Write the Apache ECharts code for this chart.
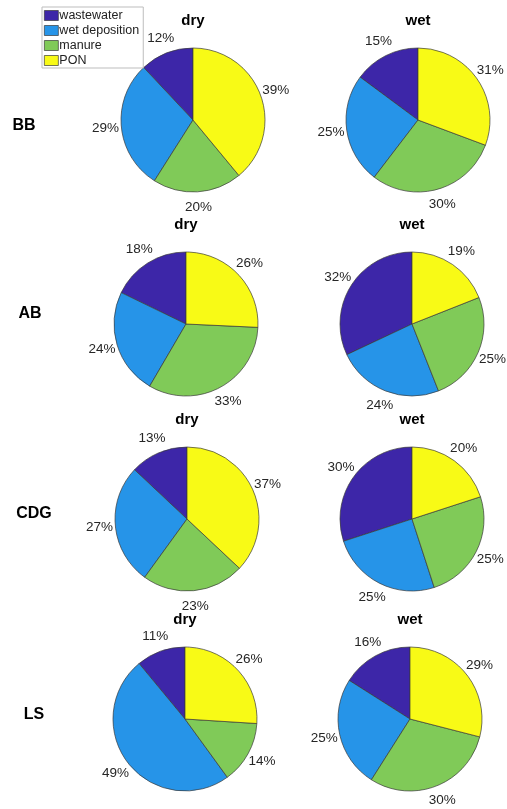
<!DOCTYPE html>
<html>
<head>
<meta charset="utf-8">
<script src="https://cdn.jsdelivr.net/npm/echarts@6/dist/echarts.min.js"></script>
<style>
html,body{margin:0;padding:0;background:#fff;}
#chart{width:507px;height:809px;}
</style>
</head>
<body>
<div id="chart"></div>
<script>
// ---- data ----
const categories = ['wastewater', 'wet deposition', 'manure', 'PON'];
const rowNames = ['BB', 'AB', 'CDG', 'LS'];
const colNames = ['dry', 'wet'];
const bbDry = [12, 29, 20, 39];
const bbWet = [15, 25, 30, 31];
const abDry = [18, 24, 33, 26];
const abWet = [32, 24, 25, 19];
const cdgDry = [13, 27, 23, 37];
const cdgWet = [30, 25, 25, 20];
const lsDry = [11, 49, 14, 26];
const lsWet = [16, 25, 30, 29];

// ---- layout / style ----
const valuesByRow = [[bbDry, bbWet], [abDry, abWet], [cdgDry, cdgWet], [lsDry, lsWet]];
const colors = ['#3D26A8', '#2694E8', '#80CA58', '#F8FA16'];
const rowCY = [120, 324, 519, 719];
const colCX = [[193, 418], [186, 412], [187, 412], [185, 410]];
const rowLabelX = [24, 30, 34, 34];
const rowLabelY = [126, 314, 514, 715];
const R = 72;
const FONT = '"Liberation Sans", Arial, Helvetica, sans-serif';

const series = [];
const graphics = [];
valuesByRow.forEach((pair, r) => {
  pair.forEach((vals, c) => {
    series.push({
      type: 'pie',
      name: rowNames[r] + ' ' + colNames[c],
      center: [colCX[r][c], rowCY[r]],
      radius: R,
      startAngle: 90,
      clockwise: false,
      avoidLabelOverlap: false,
      animation: false,
      silent: true,
      itemStyle: { borderColor: '#3a3a3a', borderWidth: 0.7 },
      emphasis: { disabled: true },
      label: {
        show: true,
        position: 'outside',
        formatter: '{c}%',
        color: '#262626',
        fontSize: 13.5,
        fontFamily: FONT
      },
      labelLine: { show: true, length: R * 0.22, length2: 0, lineStyle: { opacity: 0, width: 0 } },
      labelLayout: function (p) {
        const pts = p.labelLinePoints;
        if (pts && pts[1]) {
          return { x: pts[1][0], y: pts[1][1], align: 'center', verticalAlign: 'middle' };
        }
        return {};
      },
      data: categories.map((name, i) => ({ name: name, value: vals[i], itemStyle: { color: colors[i] } }))
    });
    graphics.push({
      type: 'text',
      x: colCX[r][c],
      y: rowCY[r] - R - 27,
      style: { text: colNames[c], align: 'center', verticalAlign: 'middle', font: 'bold 15px ' + FONT, fill: '#000' }
    });
  });
  graphics.push({
    type: 'text',
    x: rowLabelX[r],
    y: rowLabelY[r],
    style: { text: rowNames[r], align: 'center', verticalAlign: 'middle', font: 'bold 16px ' + FONT, fill: '#000' }
  });
});

const chart = echarts.init(document.getElementById('chart'), null, { renderer: 'canvas' });
chart.setOption({
  backgroundColor: '#fff',
  animation: false,
  color: colors,
  legend: {
    orient: 'vertical',
    left: 42,
    top: 7,
    data: categories,
    icon: 'rect',
    itemWidth: 14,
    itemHeight: 10,
    itemGap: 0,
    padding: [1, 4, 0, 2],
    backgroundColor: '#fff',
    borderColor: '#bdbdbd',
    borderWidth: 1,
    borderRadius: 0,
    selectedMode: false,
    itemStyle: { borderColor: '#3a3a3a', borderWidth: 0.7 },
    textStyle: { fontSize: 12.5, fontFamily: FONT, color: '#222', padding: [0, 0, 0, -4], lineHeight: 15 }
  },
  series: series,
  graphic: graphics
});
</script>
</body>
</html>
